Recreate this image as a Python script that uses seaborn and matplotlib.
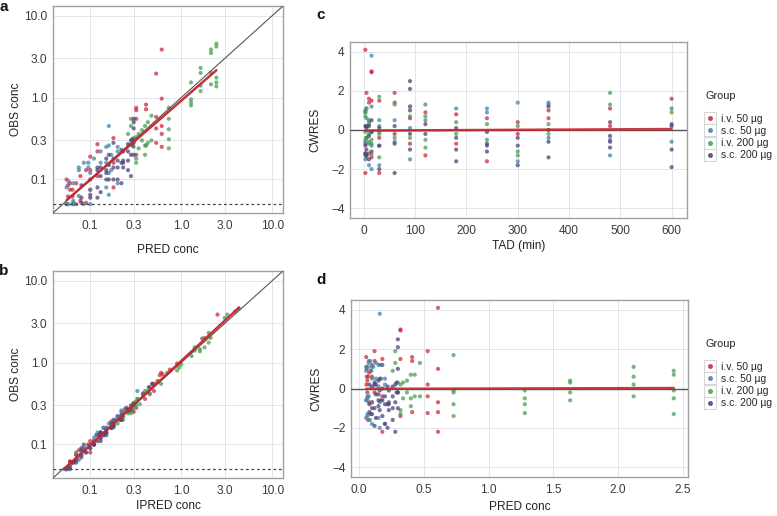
import numpy as np
import pandas as pd
import matplotlib
matplotlib.use("Agg")
import matplotlib.pyplot as plt
import seaborn as sns
from matplotlib.lines import Line2D
from matplotlib.ticker import NullLocator

# ---------------- data ----------------
groups = ["i.v. 50 µg", "s.c. 50 µg", "i.v. 200 µg", "s.c. 200 µg"]
colors = ["#CC2B3F", "#4483A8", "#47A052", "#4D4379"]

times = [3, 5, 10, 15, 30, 60, 90, 120, 180, 240, 300, 360, 480, 600]

# population predictions per group at each nominal time
pred_iv50 = [0.61, 0.53, 0.41, 0.32, 0.18, 0.12, 0.10, 0.09, 0.078, 0.07, 0.064, 0.06, 0.057, 0.055]
pred_sc50 = [0.055, 0.065, 0.10, 0.16, 0.20, 0.17, 0.15, 0.13, 0.11, 0.095, 0.085, 0.075, 0.065, 0.058]
pred_iv200 = [2.43, 2.12, 1.63, 1.28, 0.73, 0.47, 0.43, 0.40, 0.37, 0.34, 0.32, 0.30, 0.28, 0.26]
pred_sc200 = [0.08, 0.10, 0.13, 0.16, 0.22, 0.28, 0.30, 0.29, 0.26, 0.23, 0.20, 0.18, 0.15, 0.12]

# i.v. 50 µg observations
tad_iv50 = [3, 3, 3, 3, 3, 5, 5, 5, 5, 10, 10, 10, 15, 15, 15, 15, 30, 30, 30, 60, 60, 60,
            90, 90, 90, 120, 120, 180, 180, 240, 240, 300, 300, 360, 360, 480, 480, 600]
cwres_iv50 = [4.1, 1.0, -0.7, -1.2, -2.2, 1.9, 0.2, -0.4, -1.25, 1.6, 1.4, -1.2, 3.0, 2.95, 1.5, -1.4,
              1.5, -0.4, -2.2, 1.9, 1.4, -0.2, 1.2, 0.6, -0.7, 0.9, -1.3, 0.8, -0.7, 0.6, -1.6,
              0.4, -0.2, 1.0, 0.6, 1.1, 0.2, 1.6]
obs_iv50 = [3.85, 0.97, 0.45, 0.36, 0.25, 1.96, 0.58, 0.42, 0.28, 0.82, 0.72, 0.26, 0.75, 0.7, 0.55, 0.2,
            0.32, 0.16, 0.08, 0.27, 0.22, 0.11, 0.19, 0.13, 0.075, 0.13, 0.052, 0.11, 0.055, 0.09, 0.05,
            0.075, 0.062, 0.09, 0.075, 0.085, 0.062, 0.1]
ipred_iv50 = [2.5, 0.9, 0.5, 0.4, 0.3, 1.7, 0.55, 0.45, 0.32, 0.75, 0.62, 0.29, 0.6, 0.58, 0.5, 0.22,
              0.3, 0.17, 0.1, 0.24, 0.2, 0.11, 0.17, 0.12, 0.08, 0.12, 0.06, 0.1, 0.06, 0.085, 0.055,
              0.07, 0.06, 0.08, 0.07, 0.075, 0.06, 0.085]

# s.c. 50 µg observations
tad_sc50 = [3, 3, 3, 5, 5, 5, 10, 10, 10, 15, 15, 15, 15, 30, 30, 30, 60, 60, 90, 90, 90,
            120, 120, 180, 240, 240, 300, 300, 360, 360, 360, 480, 480, 600, 600]
cwres_sc50 = [0.9, -0.6, -1.5, 1.1, -0.4, -1.4, 0.5, -0.7, -1.8, 3.8, 1.2, -0.7, -2.0, 0.5, 0.2, -1.8,
              0.5, -0.6, 1.2, 0.1, -1.5, 1.3, 0.5, 1.1, 1.1, 0.9, 1.4, -1.6, 1.4, 1.3, -0.4,
              -0.5, -1.3, 1.1, -0.6]
obs_sc50 = [0.08, 0.05, 0.05, 0.09, 0.055, 0.05, 0.12, 0.075, 0.05, 0.45, 0.26, 0.12, 0.065,
            0.25, 0.22, 0.09, 0.2, 0.13, 0.25, 0.16, 0.08, 0.22, 0.16, 0.18, 0.16, 0.14, 0.16, 0.05,
            0.14, 0.13, 0.063, 0.052, 0.05, 0.095, 0.05]
ipred_sc50 = [0.07, 0.055, 0.052, 0.08, 0.06, 0.055, 0.11, 0.08, 0.06, 0.33, 0.22, 0.13, 0.075,
              0.23, 0.2, 0.1, 0.19, 0.14, 0.22, 0.15, 0.09, 0.2, 0.15, 0.16, 0.14, 0.13, 0.14, 0.058,
              0.12, 0.115, 0.068, 0.057, 0.055, 0.085, 0.054]

# i.v. 200 µg observations
tad_iv200 = [3, 3, 3, 3, 3, 5, 5, 5, 5, 10, 10, 10, 10, 15, 15, 15, 15, 30, 30, 30, 30, 30,
             60, 60, 90, 90, 120, 120, 120, 180, 180, 240, 240, 300, 300, 300, 360, 360, 480, 480, 600]
cwres_iv200 = [0.9, 0.7, -0.1, -0.5, -1.3, 1.1, 0.6, 0.2, -0.4, 0.4, 0.3, -0.2, -0.6,
               -0.1, -0.5, -0.8, -1.25, 1.7, -0.1, -0.2, -0.8, -1.4, 1.3, -0.4, 0.7, -0.4,
               0.7, -0.5, -0.9, 0.4, -0.2, 0.3, -0.5, 0.2, -1.1, -1.3, 0.3, -0.2, 1.9, 1.3, 0.9]
obs_iv200 = [4.55, 4.2, 1.75, 1.53, 1.37, 3.85, 3.5, 2.0, 1.45, 2.3, 2.0, 1.4, 1.2,
             1.53, 0.95, 0.87, 0.8, 0.75, 0.55, 0.41, 0.31, 0.24, 0.6, 0.3, 0.5, 0.28,
             0.45, 0.26, 0.2, 0.4, 0.3, 0.36, 0.24, 0.33, 0.18, 0.16, 0.32, 0.25, 0.55, 0.45, 0.36]
ipred_iv200 = [4.3, 3.9, 2.0, 1.8, 1.6, 3.2, 3.0, 2.1, 1.6, 2.0, 1.8, 1.4, 1.3,
               1.4, 1.0, 0.95, 0.9, 0.7, 0.6, 0.45, 0.35, 0.28, 0.55, 0.32, 0.45, 0.3,
               0.42, 0.28, 0.23, 0.38, 0.3, 0.33, 0.26, 0.31, 0.2, 0.18, 0.3, 0.26, 0.48, 0.4, 0.33]

# s.c. 200 µg observations
tad_sc200 = [3, 3, 3, 5, 5, 5, 10, 10, 10, 15, 15, 15, 30, 30, 30, 60, 60, 60, 90, 90, 90, 90, 90,
             120, 120, 180, 180, 180, 180, 240, 240, 240, 240, 300, 300, 300, 360, 360, 360, 360,
             480, 480, 480, 480, 600, 600, 600, 600]
cwres_sc200 = [0.2, -0.8, -1.2, 0.1, -1.0, -1.3, 0.2, -0.3, -1.5, 0.5, -0.1, -1.1, 0.1, -0.8, -2.0,
               0.2, -0.7, -2.2, 2.5, 2.1, 1.0, -0.2, -1.0, 0.3, -0.2, 0.1, -0.4, -1.0, -1.6,
               -0.1, -0.7, -0.8, -1.1, -0.4, -0.8, -1.8, 1.2, 0.0, -0.6, -1.4,
               0.4, -0.3, -0.6, -0.9, 0.3, 0.2, -1.0, -1.9]
obs_sc200 = [0.085, 0.06, 0.052, 0.1, 0.065, 0.06, 0.14, 0.11, 0.07, 0.2, 0.15, 0.1, 0.23, 0.16, 0.09,
             0.3, 0.2, 0.11, 0.55, 0.5, 0.42, 0.28, 0.2, 0.31, 0.26, 0.27, 0.22, 0.17, 0.13,
             0.22, 0.17, 0.16, 0.14, 0.17, 0.14, 0.1, 0.28, 0.18, 0.14, 0.1,
             0.18, 0.13, 0.12, 0.1, 0.14, 0.13, 0.08, 0.06]
ipred_sc200 = [0.08, 0.065, 0.058, 0.095, 0.07, 0.065, 0.13, 0.12, 0.08, 0.18, 0.15, 0.11, 0.22, 0.17, 0.1,
               0.28, 0.21, 0.13, 0.48, 0.44, 0.38, 0.28, 0.22, 0.3, 0.27, 0.26, 0.23, 0.18, 0.15,
               0.22, 0.18, 0.17, 0.15, 0.18, 0.15, 0.11, 0.25, 0.18, 0.15, 0.11,
               0.17, 0.14, 0.13, 0.11, 0.13, 0.125, 0.09, 0.07]

lloq = 0.05
conc_ticks = [0.1, 0.3, 1.0, 3.0, 10.0]
conc_labels = ["0.1", "0.3", "1.0", "3.0", "10.0"]
conc_lim = [0.039, 13.1]
tad_ticks = [0, 100, 200, 300, 400, 500, 600]
pred_ticks = [0.0, 0.5, 1.0, 1.5, 2.0, 2.5]
pred_labels = ["0.0", "0.5", "1.0", "1.5", "2.0", "2.5"]
cwres_ticks = [-4, -2, 0, 2, 4]

# ---------------- table ----------------
frames = []
for g, tad, cw, ob, ip, pt in zip(
        groups,
        [tad_iv50, tad_sc50, tad_iv200, tad_sc200],
        [cwres_iv50, cwres_sc50, cwres_iv200, cwres_sc200],
        [obs_iv50, obs_sc50, obs_iv200, obs_sc200],
        [ipred_iv50, ipred_sc50, ipred_iv200, ipred_sc200],
        [pred_iv50, pred_sc50, pred_iv200, pred_sc200]):
    lookup = dict(zip(times, pt))
    frames.append(pd.DataFrame({
        "Group": g, "TAD": tad, "PRED": [lookup[t] for t in tad],
        "OBS": ob, "IPRED": ip, "CWRES": cw}))
df = pd.concat(frames, ignore_index=True)

# ---------------- style ----------------
sns.set_theme(style="whitegrid")
plt.rcParams["font.family"] = ["Liberation Sans", "DejaVu Sans"]
plt.rcParams["axes.unicode_minus"] = True

W, H = 777, 516
fig = plt.figure(figsize=(W / 100, H / 100), dpi=100)


def rect(l, t, r, b):
    return [l / W, 1 - b / H, (r - l) / W, (b - t) / H]


axA = fig.add_axes(rect(53, 6, 283, 213))
axB = fig.add_axes(rect(53, 271, 283, 478))
axC = fig.add_axes(rect(350, 42, 687, 218))
axD = fig.add_axes(rect(351, 300, 688, 477))

RED = "#C4262E"
GRID = "#E2E6EC"
FRAME = "#A0A0A0"
TICKFS = 8.6
TITLEFS = 8.6


def style(ax):
    ax.set_facecolor("white")
    ax.grid(True, which="major", color=GRID, lw=0.7)
    ax.xaxis.set_minor_locator(NullLocator())
    ax.yaxis.set_minor_locator(NullLocator())
    for s in ax.spines.values():
        s.set_visible(True)
        s.set_color(FRAME)
        s.set_linewidth(1.0)
    ax.tick_params(axis="both", which="major", length=2.5, width=0.7, color=FRAME,
                   labelsize=TICKFS, labelcolor="#3A3A3A")
    ax.tick_params(axis="x", pad=2.5)
    ax.tick_params(axis="y", pad=1.5)
    ax.set_axisbelow(True)


scat_kw = dict(hue="Group", hue_order=groups, palette=colors, s=9, alpha=0.75,
               linewidth=0, legend=False)

# ---- panels a & b (log-log) ----
for ax, xcol, xlab, lp in [(axA, "PRED", "PRED conc", 9), (axB, "IPRED", "IPRED conc", 2.5)]:
    style(ax)
    sns.scatterplot(data=df, x=xcol, y="OBS", ax=ax, **scat_kw)
    ax.set_xscale("log")
    ax.set_yscale("log")
    ax.set_xlim(conc_lim)
    ax.set_ylim(conc_lim)
    ax.plot(conc_lim, conc_lim, color="#555555", lw=0.8, zorder=3)
    ax.axhline(lloq, color="#444444", lw=0.9, ls=(0, (2.2, 2.2)), zorder=3)
    # smooth trend (fit in log space)
    lx, ly = np.log10(df[xcol].values), np.log10(df["OBS"].values)
    coef = np.polyfit(lx, ly, 1)
    xs = np.linspace(lx.min(), lx.max(), 60)
    sns.lineplot(x=10 ** xs, y=10 ** np.polyval(coef, xs), color=RED, lw=1.8, ax=ax,
                 zorder=4, alpha=0.95)
    ax.xaxis.set_minor_locator(NullLocator())
    ax.yaxis.set_minor_locator(NullLocator())
    ax.set_xticks(conc_ticks, labels=conc_labels)
    ax.set_yticks(conc_ticks, labels=conc_labels)
    ax.set_xlabel(xlab, fontsize=TITLEFS, color="#222222", labelpad=lp)
    ax.set_ylabel("OBS conc", fontsize=TITLEFS, color="#222222", labelpad=2)

# ---- panels c & d (residuals) ----
for ax, xcol, xlab, xlim, ticks, labels, lp in [
        (axC, "TAD", "TAD (min)", (-27, 630), tad_ticks, [str(t) for t in tad_ticks], 2.5),
        (axD, "PRED", "PRED conc", (-0.062, 2.54), pred_ticks, pred_labels, 4)]:
    style(ax)
    sns.scatterplot(data=df, x=xcol, y="CWRES", ax=ax, **scat_kw)
    ax.axhline(0, color="#555555", lw=1.0, zorder=3)
    xv, yv = df[xcol].values, df["CWRES"].values
    coef = np.polyfit(xv, yv, 1)
    xs = np.linspace(xv.min(), xv.max(), 60)
    sns.lineplot(x=xs, y=np.polyval(coef, xs), color=RED, lw=1.8, ax=ax, zorder=4, alpha=0.9)
    ax.set_xlim(xlim)
    ax.set_ylim(-4.5, 4.5)
    ax.set_xticks(ticks, labels=labels)
    ax.set_yticks(cwres_ticks)
    ax.set_xlabel(xlab, fontsize=TITLEFS, color="#222222", labelpad=lp)
    ax.set_ylabel("CWRES", fontsize=TITLEFS, color="#222222", labelpad=7)

# ---- legends ----
for ax, top, xl in [(axC, 114, 705), (axD, 362, 705)]:
    handles = []
    for c in colors:
        box = Line2D([], [], marker="s", markersize=8.5, markerfacecolor="white",
                     markeredgecolor="#D6D6D6", markeredgewidth=0.8, linestyle="None")
        dot = Line2D([], [], marker="o", markersize=2.6, color=c, alpha=0.8, linestyle="None")
        handles.append((box, dot))
    ax.legend(handles, groups, loc="upper left", bbox_to_anchor=(xl / W, 1 - top / H),
              bbox_transform=fig.transFigure, frameon=False, fontsize=7.5,
              handlelength=1.05, handletextpad=0.45, labelspacing=0.2,
              borderpad=0, borderaxespad=0)
    fig.text(xl / W, 1 - (top - 18) / H, "Group", fontsize=7.8, color="#222222",
             ha="left", va="center")

# ---- panel letters ----
for letter, x, y in [("a", 4, 7), ("b", 4, 271), ("c", 321, 15), ("d", 321, 280)]:
    fig.text(x / W, 1 - y / H, letter, fontsize=11, fontweight="bold", ha="center",
             va="center", color="#111111")

fig.savefig("out.png", dpi=100)
